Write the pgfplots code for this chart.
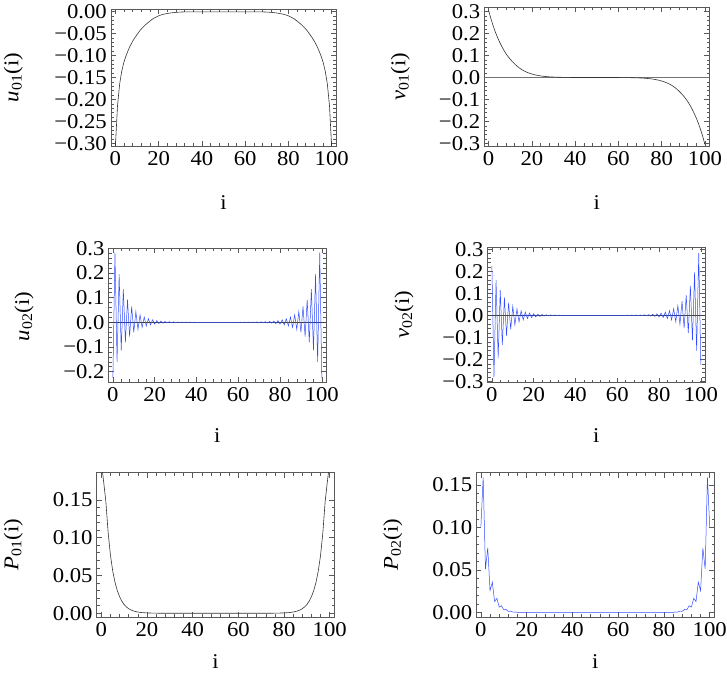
\documentclass[border=0pt]{standalone}
\usepackage{fontspec}
\setmainfont{Liberation Serif}[FakeStretch=1.08]
\usepackage{pgfplots}
\pgfplotsset{compat=1.18}

\definecolor{mblue}{rgb}{0.2,0.3,1}
\definecolor{mframe}{gray}{0.35}
\definecolor{mcurve}{gray}{0.2}

\newcommand{\fs}{\fontsize{21}{24}\selectfont}

\pgfplotsset{
  mstyle/.style={
    scale only axis,
    anchor=north west,
    xmin=-2, xmax=102,
    xtick={0,20,40,60,80,100},
    xticklabels={0,20,40,60,80,100},
    minor x tick num=4,
    minor y tick num=4,
    tick align=inside,
    xtick pos=both, ytick pos=both,
    xticklabel pos=lower, yticklabel pos=left,
    major tick length=5pt, minor tick length=2.8pt,
    axis line style={mframe, line width=0.6pt},
    every tick/.append style={mframe, line width=0.5pt},
    tick label style={font=\fs},
    yticklabel style={inner sep=4pt},
    xticklabel style={inner sep=5pt},
    label style={font=\fs},
    /pgf/number format/assume math mode=true,
    xlabel={i},
    clip=true,
  }
}

\begin{document}
\begin{tikzpicture}
\useasboundingbox (0pt,0pt) rectangle (727pt,686pt);

% ---------- A: u01 ----------
\begin{axis}[mstyle,
  at={(111pt,677pt)}, width=225pt, height=137pt,
  ymin=-0.306, ymax=0.0055,
  ytick={-0.30,-0.25,-0.20,-0.15,-0.10,-0.05,0},
  yticklabels={−0.30,−0.25,−0.20,−0.15,−0.10,−0.05,0.00},
  ylabel={\textit{u}\textsubscript{01}(i)},
  ylabel style={at={(axis description cs:-0.434,0.5)}, anchor=center},
  xlabel style={at={(axis description cs:0.5,-0.416)}, anchor=center},
]
\addplot[mcurve, line width=0.6pt] coordinates {
(0,-0.31) (1,-0.215) (2,-0.165) (3,-0.135) (4,-0.115) (5,-0.1) (6,-0.088) (7,-0.077) (8,-0.068) (9,-0.06)
(10,-0.053) (11,-0.046) (12,-0.04) (13,-0.035) (14,-0.03) (15,-0.026) (16,-0.022) (17,-0.018) (18,-0.015) (19,-0.0125)
(20,-0.01) (21,-0.0083) (22,-0.0069) (23,-0.0057) (24,-0.0047) (25,-0.0039) (26,-0.0032) (27,-0.0027) (28,-0.0022) (29,-0.0018)
(30,-0.0015) (31,-0.0013) (32,-0.0011) (33,-0.001) (50,-0.001) (67,-0.001)
(68,-0.0011) (69,-0.0013) (70,-0.0015) (71,-0.0018) (72,-0.0022) (73,-0.0027) (74,-0.0032) (75,-0.0039) (76,-0.0047) (77,-0.0057)
(78,-0.0069) (79,-0.0083) (80,-0.01) (81,-0.0125) (82,-0.015) (83,-0.018) (84,-0.022) (85,-0.026) (86,-0.03) (87,-0.035)
(88,-0.04) (89,-0.046) (90,-0.053) (91,-0.06) (92,-0.068) (93,-0.077) (94,-0.088) (95,-0.1) (96,-0.115) (97,-0.135)
(98,-0.165) (99,-0.215) (100,-0.31)
};
\end{axis}

% ---------- B: v01 ----------
\begin{axis}[mstyle,
  at={(484.3pt,678.5pt)}, width=225pt, height=138.5pt,
  ymin=-0.312, ymax=0.319,
  ytick={-0.3,-0.2,-0.1,0,0.1,0.2,0.3},
  yticklabels={−0.3,−0.2,−0.1,0.0,0.1,0.2,0.3},
  ylabel={\textit{v}\textsubscript{01}(i)},
  ylabel style={at={(axis description cs:-0.373,0.5)}, anchor=center},
  xlabel style={at={(axis description cs:0.5,-0.41)}, anchor=center},
]
\addplot[black!55, line width=0.6pt, forget plot] coordinates {(-2,0) (102,0)};
\addplot[mcurve, line width=0.6pt] coordinates {
(0,0.305) (1,0.27) (2,0.238) (3,0.21) (4,0.185) (5,0.163) (6,0.143) (7,0.125) (8,0.109) (9,0.095)
(10,0.083) (11,0.072) (12,0.062) (13,0.053) (14,0.045) (15,0.038) (16,0.032) (17,0.027) (18,0.023) (19,0.019)
(20,0.016) (21,0.013) (22,0.011) (23,0.009) (24,0.0073) (25,0.006) (26,0.0049) (27,0.004) (28,0.0032) (29,0.0026)
(30,0.0021) (31,0.0017) (32,0.0014) (33,0.0011) (34,0.0009) (35,0.0007) (36,0.0005) (37,0.0004) (38,0.0003) (39,0.0002)
(40,0.0001) (50,0) (60,-0.0001)
(61,-0.0002) (62,-0.0003) (63,-0.0004) (64,-0.0005) (65,-0.0007) (66,-0.0009) (67,-0.0011) (68,-0.0014) (69,-0.0017) (70,-0.0021)
(71,-0.0026) (72,-0.0032) (73,-0.004) (74,-0.0049) (75,-0.006) (76,-0.0073) (77,-0.009) (78,-0.011) (79,-0.013) (80,-0.016)
(81,-0.019) (82,-0.023) (83,-0.027) (84,-0.032) (85,-0.038) (86,-0.045) (87,-0.053) (88,-0.062) (89,-0.072) (90,-0.083)
(91,-0.095) (92,-0.109) (93,-0.125) (94,-0.143) (95,-0.163) (96,-0.185) (97,-0.21) (98,-0.238) (99,-0.27) (100,-0.305)
};
\end{axis}

% ---------- C: u02 ----------
\begin{axis}[mstyle,
  at={(108.7pt,437.7pt)}, width=217.3pt, height=133.7pt,
  ymin=-0.242, ymax=0.30,
  ytick={-0.2,-0.1,0,0.1,0.2,0.3},
  yticklabels={−0.2,−0.1,0.0,0.1,0.2,0.3},
  ylabel={\textit{u}\textsubscript{02}(i)},
  ylabel style={at={(axis description cs:-0.39,0.49)}, anchor=center},
  xlabel style={at={(axis description cs:0.5,-0.404)}, anchor=center},
]
\addplot[black!75, line width=0.6pt, forget plot] coordinates {(-2,0) (102,0)};
\addplot[mblue, line width=0.5pt] coordinates {
(0,-0.225) (1,0.282) (2,-0.16) (3,0.195) (4,-0.114) (5,0.134) (6,-0.081) (7,0.092) (8,-0.058) (9,0.064)
(10,-0.041) (11,0.044) (12,-0.029) (13,0.03) (14,-0.0205) (15,0.021) (16,-0.0145) (17,0.0145) (18,-0.0103) (19,0.0101)
(20,-0.0073) (21,0.007) (22,-0.0052) (23,0.0049) (24,-0.0037) (25,0.0034) (26,-0.0026) (27,0.0024) (28,-0.0018) (29,0.0017)
(30,-0.0013) (31,0.0012) (32,-0.0009) (33,0.0008) (34,-0.0006) (35,0.0006) (36,-0.0004) (37,0.0004) (38,-0.0003) (39,0.0003)
(40,0) (50,0) (60,0)
(61,0.0003) (62,-0.0003) (63,0.0004) (64,-0.0004) (65,0.0006) (66,-0.0006) (67,0.0008) (68,-0.0009) (69,0.0012) (70,-0.0013)
(71,0.0017) (72,-0.0018) (73,0.0024) (74,-0.0026) (75,0.0034) (76,-0.0037) (77,0.0049) (78,-0.0052) (79,0.007) (80,-0.0073)
(81,0.0101) (82,-0.0103) (83,0.0145) (84,-0.0145) (85,0.021) (86,-0.0205) (87,0.03) (88,-0.029) (89,0.044) (90,-0.041)
(91,0.064) (92,-0.058) (93,0.092) (94,-0.081) (95,0.134) (96,-0.114) (97,0.195) (98,-0.16) (99,0.282) (100,-0.225)
};
\end{axis}

% ---------- D: v02 ----------
\begin{axis}[mstyle,
  at={(487.7pt,438.5pt)}, width=217.3pt, height=135pt,
  ymin=-0.305, ymax=0.308,
  ytick={-0.3,-0.2,-0.1,0,0.1,0.2,0.3},
  yticklabels={−0.3,−0.2,−0.1,0.0,0.1,0.2,0.3},
  ylabel={\textit{v}\textsubscript{02}(i)},
  ylabel style={at={(axis description cs:-0.385,0.5)}, anchor=center},
  xlabel style={at={(axis description cs:0.5,-0.396)}, anchor=center},
]
\addplot[black!75, line width=0.6pt, forget plot] coordinates {(-2,0) (102,0)};
\addplot[mblue, line width=0.5pt] coordinates {
(0,0.225) (1,-0.282) (2,0.16) (3,-0.195) (4,0.114) (5,-0.134) (6,0.081) (7,-0.092) (8,0.058) (9,-0.064)
(10,0.041) (11,-0.044) (12,0.029) (13,-0.03) (14,0.0205) (15,-0.021) (16,0.0145) (17,-0.0145) (18,0.0103) (19,-0.0101)
(20,0.0073) (21,-0.007) (22,0.0052) (23,-0.0049) (24,0.0037) (25,-0.0034) (26,0.0026) (27,-0.0024) (28,0.0018) (29,-0.0017)
(30,0.0013) (31,-0.0012) (32,0.0009) (33,-0.0008) (34,0.0006) (35,-0.0006) (36,0.0004) (37,-0.0004) (38,0.0003) (39,-0.0003)
(40,0) (50,0) (60,0)
(61,0.0003) (62,-0.0003) (63,0.0004) (64,-0.0004) (65,0.0006) (66,-0.0006) (67,0.0008) (68,-0.0009) (69,0.0012) (70,-0.0013)
(71,0.0017) (72,-0.0018) (73,0.0024) (74,-0.0026) (75,0.0034) (76,-0.0037) (77,0.0049) (78,-0.0052) (79,0.007) (80,-0.0073)
(81,0.0101) (82,-0.0103) (83,0.0145) (84,-0.0145) (85,0.021) (86,-0.0205) (87,0.03) (88,-0.029) (89,0.044) (90,-0.041)
(91,0.064) (92,-0.058) (93,0.092) (94,-0.081) (95,0.134) (96,-0.114) (97,0.195) (98,-0.16) (99,0.282) (100,-0.225)
};
\end{axis}

% ---------- E: P01 ----------
\begin{axis}[mstyle,
  at={(96.7pt,213.3pt)}, width=237.6pt, height=144.3pt,
  ymin=-0.005, ymax=0.1858,
  ytick={0,0.05,0.10,0.15},
  yticklabels={0.00,0.05,0.10,0.15},
  ylabel={\textit{P}\textsubscript{01}(i)},
  ylabel style={at={(axis description cs:-0.351,0.5)}, anchor=center},
  xlabel style={at={(axis description cs:0.5,-0.312)}, anchor=center},
]
\addplot[mcurve, line width=0.6pt] coordinates {
(0,0.2) (1,0.175) (2,0.148) (3,0.107) (4,0.077) (5,0.056) (6,0.041) (7,0.03) (8,0.022) (9,0.016)
(10,0.0115) (11,0.0083) (12,0.006) (13,0.0043) (14,0.0031) (15,0.0022) (16,0.0016) (17,0.0011) (18,0.0008) (19,0.0006)
(20,0.0004) (21,0.0003) (22,0.0002) (23,0.00015) (24,0.0001) (25,0) (50,0) (75,0)
(76,0.0001) (77,0.00015) (78,0.0002) (79,0.0003) (80,0.0004) (81,0.0006) (82,0.0008) (83,0.0011) (84,0.0016) (85,0.0022)
(86,0.0031) (87,0.0043) (88,0.006) (89,0.0083) (90,0.0115) (91,0.016) (92,0.022) (93,0.03) (94,0.041) (95,0.056)
(96,0.077) (97,0.107) (98,0.148) (99,0.175) (100,0.2)
};
\end{axis}

% ---------- F: P02 ----------
\begin{axis}[mstyle,
  at={(476.3pt,213.3pt)}, width=238pt, height=144.3pt,
  ymin=-0.005, ymax=0.1644,
  ytick={0,0.05,0.10,0.15},
  yticklabels={0.00,0.05,0.10,0.15},
  ylabel={\textit{P}\textsubscript{02}(i)},
  ylabel style={at={(axis description cs:-0.351,0.5)}, anchor=center},
  xlabel style={at={(axis description cs:0.5,-0.312)}, anchor=center},
]
\addplot[mblue, line width=0.5pt] coordinates {
(0,0.101) (1,0.159) (2,0.0512) (3,0.0761) (4,0.026) (5,0.0359) (6,0.0131) (7,0.0169) (8,0.0067) (9,0.0082)
(10,0.0034) (11,0.0039) (12,0.0017) (13,0.0018) (14,0.00084) (15,0.00088) (16,0.00042) (17,0.00042) (18,0.00021) (19,0.0002)
(20,0.00011) (21,0.0001) (22,0.00005) (23,0.00005) (24,0.00003) (25,0.00002) (26,0) (50,0) (74,0)
(75,0.00002) (76,0.00003) (77,0.00005) (78,0.00005) (79,0.0001) (80,0.00011) (81,0.0002) (82,0.00021) (83,0.00042) (84,0.00042)
(85,0.00088) (86,0.00084) (87,0.0018) (88,0.0017) (89,0.0039) (90,0.0034) (91,0.0082) (92,0.0067) (93,0.0169) (94,0.0131)
(95,0.0359) (96,0.026) (97,0.0761) (98,0.0512) (99,0.159) (100,0.101)
};
\end{axis}
\end{tikzpicture}
\end{document}
